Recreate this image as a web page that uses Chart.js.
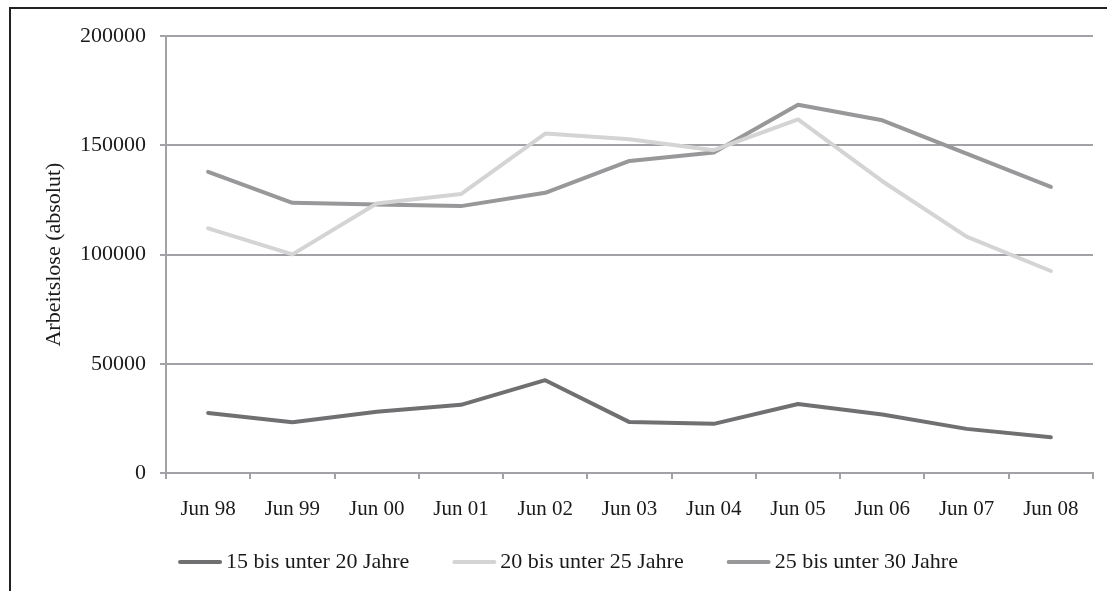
<!DOCTYPE html>
<html>
<head>
<meta charset="utf-8">
<script src="https://cdn.jsdelivr.net/npm/chart.js@4.4.1/dist/chart.umd.min.js"></script>
<style>
  html, body { margin: 0; padding: 0; background: #fff; }
  #frame {
    position: absolute; left: 9px; top: 7px;
    width: 1098px; height: 584px;
    border-top: 2px solid #222; border-left: 2px solid #222;
  }
  #wrap { position: absolute; left: 0; top: 0; width: 1096px; height: 582px; }
</style>
</head>
<body>
<div id="frame"><div id="wrap"><canvas id="c"></canvas></div></div>
<script>
const categories = ['Jun 98', 'Jun 99', 'Jun 00', 'Jun 01', 'Jun 02', 'Jun 03', 'Jun 04', 'Jun 05', 'Jun 06', 'Jun 07', 'Jun 08'];
const age15to20 = [27500, 23200, 28000, 31200, 42500, 23300, 22500, 31600, 26800, 20200, 16400];
const age20to25 = [112000, 100100, 123400, 127700, 155400, 152800, 147800, 161900, 133600, 108200, 92500];
const age25to30 = [137900, 123700, 122900, 122200, 128300, 142900, 146700, 168600, 161500, 146200, 131000];
const yTicks = [0, 50000, 100000, 150000, 200000];

const serif = "'Liberation Serif', 'Times New Roman', serif";
const txt = '#1a1a1a';
const gridCol = '#a2a2a6';

function line(label, data, color) {
  return {
    label, data,
    borderColor: color, backgroundColor: color,
    borderWidth: 4, pointRadius: 0, tension: 0,
    borderCapStyle: 'round', borderJoinStyle: 'round'
  };
}

// legend drawn by hand: line, small gap, text, wide gap
const lineLegend = {
  id: 'lineLegend',
  afterDraw(chart) {
    const ctx = chart.ctx;
    const sets = chart.data.datasets;
    const lineLen = 44, gap = 4, itemGap = 43, y = 553;
    ctx.save();
    ctx.font = '22px ' + serif;
    const widths = sets.map(d => ctx.measureText(d.label).width);
    const total = widths.reduce((a, w) => a + lineLen + gap + w, 0) + itemGap * (sets.length - 1);
    let x = chart.width / 2 + 9 - total / 2;
    sets.forEach((d, i) => {
      ctx.strokeStyle = d.borderColor;
      ctx.lineWidth = 4;
      ctx.lineCap = 'round';
      ctx.beginPath();
      ctx.moveTo(x + 2, y);
      ctx.lineTo(x + lineLen - 2, y);
      ctx.stroke();
      ctx.fillStyle = txt;
      ctx.textBaseline = 'middle';
      ctx.textAlign = 'left';
      ctx.fillText(d.label, x + lineLen + gap, y);
      x += lineLen + gap + widths[i] + itemGap;
    });
    ctx.restore();
  }
};

new Chart(document.getElementById('c').getContext('2d'), {
  type: 'line',
  data: {
    labels: categories,
    datasets: [
      line('15 bis unter 20 Jahre', age15to20, '#707072'),
      line('20 bis unter 25 Jahre', age20to25, '#d4d4d4'),
      line('25 bis unter 30 Jahre', age25to30, '#98989a')
    ]
  },
  plugins: [lineLegend],
  options: {
    responsive: true,
    maintainAspectRatio: false,
    animation: false,
    layout: { padding: { top: 22, right: 14, bottom: 48, left: 0 } },
    plugins: {
      tooltip: { enabled: false },
      legend: { display: false }
    },
    scales: {
      x: {
        offset: true,
        grid: { offset: true, drawOnChartArea: false, drawTicks: true, tickLength: 6, color: gridCol, lineWidth: 2 },
        border: { color: gridCol, width: 2 },
        ticks: { color: txt, font: { family: serif, size: 21 }, padding: 18, maxRotation: 0 },
        afterFit: s => { s.height = 70; }
      },
      y: {
        min: 0, max: 200000,
        afterBuildTicks: s => { s.ticks = yTicks.map(v => ({ value: v })); },
        grid: { color: gridCol, lineWidth: 2, tickLength: 6 },
        border: { color: gridCol, width: 2 },
        ticks: { color: txt, font: { family: serif, size: 22 }, padding: 14, callback: v => String(v) },
        title: {
          display: true, text: 'Arbeitslose (absolut)', color: txt,
          font: { family: serif, size: 22 }, padding: { top: 30, bottom: 0 }
        },
        afterFit: s => { s.width = 155; }
      }
    }
  }
});
</script>
</body>
</html>
